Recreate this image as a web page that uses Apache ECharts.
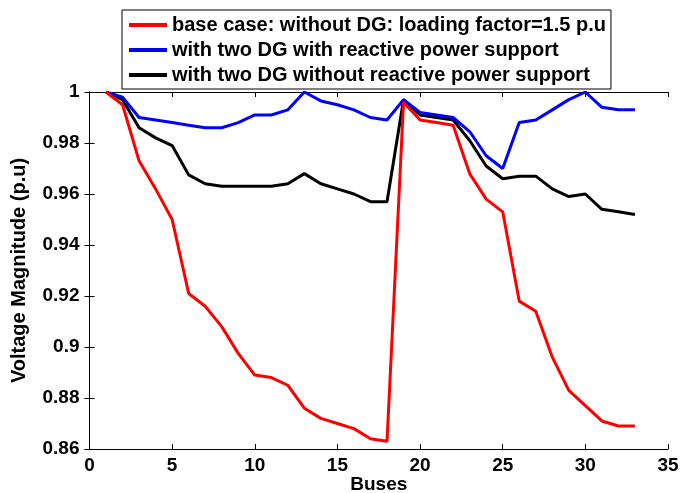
<!DOCTYPE html>
<html><head><meta charset="utf-8">
<script src="https://cdn.jsdelivr.net/npm/echarts@6/dist/echarts.min.js"></script>
<style>html,body{margin:0;padding:0;background:#fff}#c{width:683px;height:493px}</style>
</head><body><div id="c"></div>
<script>
const buses = [1,2,3,4,5,6,7,8,9,10,11,12,13,14,15,16,17,18,19,20,21,22,23,24,25,26,27,28,29,30,31,32,33];
const baseCase = [1.0,0.995,0.973,0.962,0.950,0.921,0.916,0.908,0.8975,0.889,0.888,0.885,0.876,0.872,0.870,0.868,0.864,0.863,0.996,0.989,0.988,0.987,0.968,0.958,0.953,0.918,0.914,0.896,0.883,0.877,0.871,0.869,0.869];
const withReactive = [1.0,0.998,0.990,0.989,0.988,0.987,0.986,0.986,0.988,0.991,0.991,0.993,1.0,0.9965,0.995,0.993,0.990,0.989,0.997,0.992,0.991,0.990,0.9845,0.975,0.970,0.988,0.989,0.993,0.997,1.0,0.994,0.993,0.993];
const withoutReactive = [1.0,0.997,0.986,0.982,0.979,0.9675,0.964,0.963,0.963,0.963,0.963,0.964,0.968,0.964,0.962,0.960,0.957,0.957,0.997,0.991,0.990,0.989,0.981,0.971,0.966,0.967,0.967,0.962,0.959,0.960,0.954,0.953,0.952];
const seriesNames = ['base case: without DG: loading factor=1.5 p.u','with two DG with reactive power support','with two DG without reactive power support'];
const seriesColors = ['#ff0000','#0000ff','#000000'];
const xTicks = [0,5,10,15,20,25,30,35];
const yTicks = [0.86,0.88,0.9,0.92,0.94,0.96,0.98,1];

const font = 'Liberation Sans, Arial, sans-serif';
const mk = (arr) => buses.map((b,i)=>[b,arr[i]]);
const data = [baseCase, withReactive, withoutReactive];
const chart = echarts.init(document.getElementById('c'));
const tickStyle = {inside:true,length:5,lineStyle:{color:'#000',width:1}};
chart.setOption({
  animation:false,
  grid:{left:89.5,right:15,top:92,bottom:44,show:false,containLabel:false,outerBoundsMode:'none'},
  legend:{
    orient:'vertical',left:122,top:10,
    backgroundColor:'#fff',borderColor:'#000',borderWidth:1,
    padding:[5,5,4,7],itemGap:5,itemWidth:38,itemHeight:4,icon:'rect',
    textStyle:{fontFamily:font,fontWeight:'bold',fontSize:20,color:'#000',padding:[0,0,0,0]},
    data:seriesNames
  },
  xAxis:[{
    type:'value',min:0,max:35,interval:5,
    name:'Buses',nameLocation:'middle',nameGap:36,nameMoveOverlap:false,
    nameTextStyle:{fontFamily:font,fontWeight:'bold',fontSize:19,color:'#000',verticalAlign:'middle'},
    axisLine:{show:true,lineStyle:{color:'#000',width:1}},
    axisTick:tickStyle,splitLine:{show:false},
    axisLabel:{fontFamily:font,fontWeight:'bold',fontSize:19,color:'#000',margin:7,formatter:v=>xTicks.includes(v)?String(v):''}
  },{
    type:'value',min:0,max:35,interval:5,position:'top',
    axisLine:{show:true,lineStyle:{color:'#000',width:1}},
    axisTick:tickStyle,axisLabel:{show:false},splitLine:{show:false}
  }],
  yAxis:[{
    type:'value',min:0.86,max:1,interval:0.02,
    name:'Voltage Magnitude (p.u)',nameLocation:'middle',nameGap:60,
    nameTextStyle:{fontFamily:font,fontWeight:'bold',fontSize:20,color:'#000'},
    axisLine:{show:true,lineStyle:{color:'#000',width:1}},
    axisTick:tickStyle,splitLine:{show:false},
    axisLabel:{fontFamily:font,fontWeight:'bold',fontSize:19,color:'#000',margin:10,
      formatter:v=>{const r=Math.round(v*100)/100; const t=yTicks.find(y=>Math.abs(y-r)<1e-9); return t===undefined?'':String(t);}}
  },{
    type:'value',min:0.86,max:1,interval:0.02,position:'right',
    axisLine:{show:true,lineStyle:{color:'#000',width:1}},
    axisTick:tickStyle,axisLabel:{show:false},splitLine:{show:false}
  }],
  series:seriesNames.map((n,i)=>({
    name:n,type:'line',data:mk(data[i]),showSymbol:false,symbol:'none',
    lineStyle:{color:seriesColors[i],width:3},itemStyle:{color:seriesColors[i]},
    z:10-i
  }))
});
</script></body></html>
